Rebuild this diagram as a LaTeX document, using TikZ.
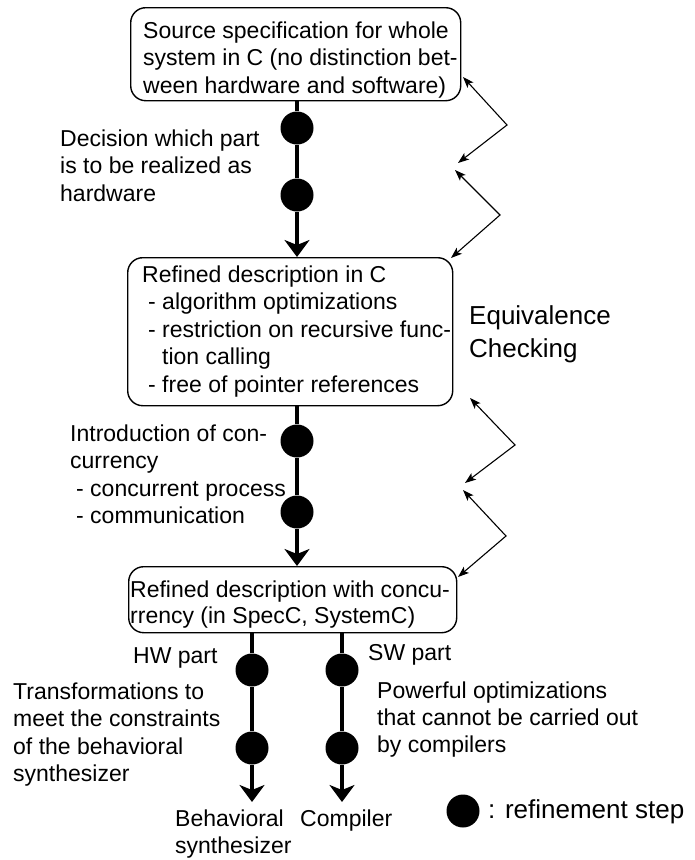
\documentclass[tikz,border=0pt]{standalone}
\usepackage{fontspec}
\setmainfont{Liberation Sans}
\usetikzlibrary{arrows.meta}
\begin{document}
\begin{tikzpicture}[x=1pt,y=-1pt,
  box/.style={draw,line width=1.4pt,rounded corners=15pt,anchor=north west,inner sep=0pt},
  lbl/.style={anchor=north west,align=left,inner sep=0pt,font=\fontsize{23}{27.5}\selectfont},
  big/.style={anchor=north west,align=left,inner sep=0pt,font=\fontsize{26}{33}\selectfont},
  dot/.style={circle,fill=black,minimum size=33pt,inner sep=0pt},
  flow/.style={line width=4pt,-{Stealth[length=17pt,width=25pt,inset=5pt]}},
  eq/.style={line width=1.1pt,{Stealth[length=11pt,width=8pt,inset=2.5pt]}-{Stealth[length=11pt,width=8pt,inset=2.5pt]}}]
\useasboundingbox (0,0) rectangle (694,860);

% boxes
\node[box,minimum width=330pt,minimum height=93pt] (b1) at (130,7) {};
\node[lbl] (t1) at (143,21.4)
  {Source specification for whole\\system in C (no distinction bet-\\ween hardware and software)};
\node[box,minimum width=325pt,minimum height=148pt] (b2) at (127,257) {};
\node[lbl] (t2) at (142,265.4)
  {Refined description in C\\\hspace*{6pt}- algorithm optimizations\\\hspace*{6pt}- restriction on recursive func-\\\hspace*{20pt}tion calling\\\hspace*{6pt}- free of pointer references};
\node[box,minimum width=328pt,minimum height=66pt] (b3) at (128,566) {};
\node[lbl,font=\fontsize{23}{26.8}\selectfont] (t3) at (130,580.2)
  {Refined description with concu-\\rrency (in SpecC, SystemC)};

% refinement steps
\node[dot] (c1) at (297,128) {};
\node[dot] (c2) at (297,195) {};
\node[dot] (c3) at (297,441) {};
\node[dot] (c4) at (297,512) {};
\node[dot] (h1) at (252,670) {};
\node[dot] (h2) at (252,748) {};
\node[dot] (s1) at (342,670) {};
\node[dot] (s2) at (342,748) {};
\coordinate (hwend) at (252,802);
\coordinate (swend) at (342,802);

\draw[flow] (b1.south -| c1) -- (c1) -- (c2) -- (b2.north -| c2);
\draw[flow] (b2.south -| c3) -- (c3) -- (c4) -- (b3.north -| c4);
\draw[flow] (b3.south -| h1) -- (h1) -- (h2) -- (hwend);
\draw[flow] (b3.south -| s1) -- (s1) -- (s2) -- (swend);

% labels
\node[lbl] (l1) at (60,129.4) {Decision which part\\is to be realized as\\hardware};
\node[lbl] (l2) at (70,424.4) {Introduction of con-\\currency\\\hspace*{6pt}- concurrent process\\\hspace*{6pt}- communication};
\node[lbl] (hw) at (133,647.5) {HW part};
\node[lbl] (l3) at (13,682.4) {Transformations to\\meet the constraints\\of the behavioral\\synthesizer};
\node[lbl] (sw) at (368,644) {SW part};
\node[lbl,font=\fontsize{23}{27}\selectfont] (l4) at (377,682) {Powerful optimizations\\that cannot be carried out\\by compilers};
\node[lbl,font=\fontsize{23}{27}\selectfont] (bs) at (175,810) {Behavioral\\synthesizer};
\node[lbl] (cp) at (300,810) {Compiler};
\node[dot] (leg) at (463,811) {};
\node[big] (legt) at (488,799.5) {: refinement step};
\node[big] (ec) at (469,305) {Equivalence\\Checking};

% equivalence checking arrows
\coordinate (a1) at (463,77);  \coordinate (v1) at (507,125); \coordinate (a2) at (458,163);
\coordinate (a3) at (455,170); \coordinate (v2) at (500,215); \coordinate (a4) at (451,258);
\coordinate (a5) at (470,398); \coordinate (v3) at (515,445); \coordinate (a6) at (465,483);
\coordinate (a7) at (463,490); \coordinate (v4) at (506,536); \coordinate (a8) at (458,577);
\draw[eq] (a1) -- (v1) -- (a2);
\draw[eq] (a3) -- (v2) -- (a4);
\draw[eq] (a5) -- (v3) -- (a6);
\draw[eq] (a7) -- (v4) -- (a8);
\end{tikzpicture}
\end{document}
